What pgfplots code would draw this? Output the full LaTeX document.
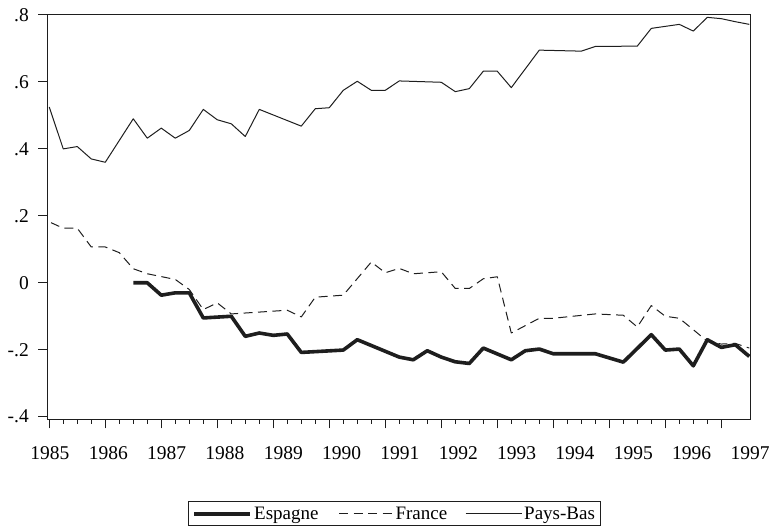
\documentclass[border=0pt]{standalone}
\usepackage{pgfplots}
\pgfplotsset{compat=1.18}
\usepackage{fontspec}
\setmainfont{Liberation Serif}
\definecolor{ink}{HTML}{1E1E1E}
\begin{document}
\begin{tikzpicture}
\path[use as bounding box] (0bp,0bp) rectangle (776bp,532bp);
\begin{axis}[
  at={(47.3bp,112.7bp)}, anchor=south west,
  scale only axis, width=703.4bp, height=404.3bp,
  xmin=-0.14, xmax=50.1, ymin=-0.4078, ymax=0.8,
  font=\fontsize{19.5bp}{23bp}\selectfont,
  axis line style={ink, line width=1bp},
  every tick/.style={ink, line width=1bp},
  tick align=outside,
  xtick pos=bottom, ytick pos=left,
  xtick={0,4,...,48}, xticklabels={},
  minor x tick num=3,
  major tick length=9bp, minor tick length=4.5bp,
  ytick={-0.4,-0.2,0,0.2,0.4,0.6,0.8},
  yticklabels={-.4,-.2,0,.2,.4,.6,.8},
  yticklabel style={xshift=-6bp},
  xticklabel style={yshift=-24bp},
  extra x ticks={0.05,4.22,8.38,12.55,16.72,20.88,25.05,29.22,33.38,37.55,41.72,45.88,50.05},
  extra x tick labels={1985,1986,1987,1988,1989,1990,1991,1992,1993,1994,1995,1996,1997},
  extra x tick style={major tick length=0pt},
  legend style={at={(0.494,-0.234)}, anchor=center, draw=ink, line width=1bp,
    legend columns=3, inner xsep=4bp, inner ysep=3bp,
    font=\fontsize{19bp}{23bp}\selectfont,
    /tikz/every even column/.append style={column sep=16bp}},
  legend image code/.code={\draw[#1] (0bp,0bp) -- (56bp,0bp);},
  every axis plot/.append style={line join=round},
]
\addplot[ink, line width=3.6bp] coordinates {
(6,0.0) (7,0.0) (8,-0.037) (9,-0.03) (10,-0.03) (11,-0.105) (13,-0.10)
(14,-0.16) (15,-0.15) (16,-0.157) (17,-0.153) (18,-0.208) (21,-0.201)
(22,-0.17) (25,-0.222) (26,-0.23) (27,-0.203) (28,-0.222) (29,-0.236)
(30,-0.241) (31,-0.195) (33,-0.23) (34,-0.203) (35,-0.198) (36,-0.212)
(39,-0.212) (41,-0.237) (43,-0.155) (44,-0.201) (45,-0.198) (46,-0.248)
(47,-0.17) (48,-0.193) (49,-0.185) (50,-0.22)
};
\addlegendentry{Espagne}
\addplot[ink, line width=1bp, dash pattern=on 9bp off 5.5bp, dash phase=-2bp] coordinates {
(0,0.182) (1,0.163) (2,0.163) (3,0.107) (4,0.107) (5,0.09) (6,0.042)
(7,0.027) (9,0.01) (10,-0.02) (11,-0.08) (12,-0.06) (13,-0.093)
(17,-0.082) (18,-0.102) (19,-0.043) (21,-0.037) (23,0.062) (24,0.03)
(25,0.043) (26,0.027) (28,0.033) (29,-0.017) (30,-0.017) (31,0.012)
(32,0.018) (33,-0.15) (35,-0.106) (36,-0.106) (39,-0.093) (41,-0.097)
(42,-0.132) (43,-0.068) (44,-0.10) (45,-0.106) (46,-0.14) (47,-0.175)
(48,-0.183) (49,-0.181) (50,-0.195)
};
\addlegendentry{France}
\addplot[ink, line width=1bp] coordinates {
(0,0.525) (1,0.40) (2,0.407) (3,0.37) (4,0.36) (6,0.49) (7,0.432)
(8,0.462) (9,0.432) (10,0.455) (11,0.518) (12,0.487) (13,0.475)
(14,0.437) (15,0.518) (18,0.468) (19,0.52) (20,0.523) (21,0.575)
(22,0.602) (23,0.575) (24,0.575) (25,0.603) (28,0.599) (29,0.571)
(30,0.58) (31,0.632) (32,0.632) (33,0.583) (35,0.695) (38,0.692)
(39,0.706) (42,0.707) (43,0.76) (44,0.766) (45,0.772) (46,0.752)
(47,0.793) (48,0.789) (49,0.78) (50,0.772)
};
\addlegendentry{Pays-Bas}
\end{axis}
\end{tikzpicture}
\end{document}
